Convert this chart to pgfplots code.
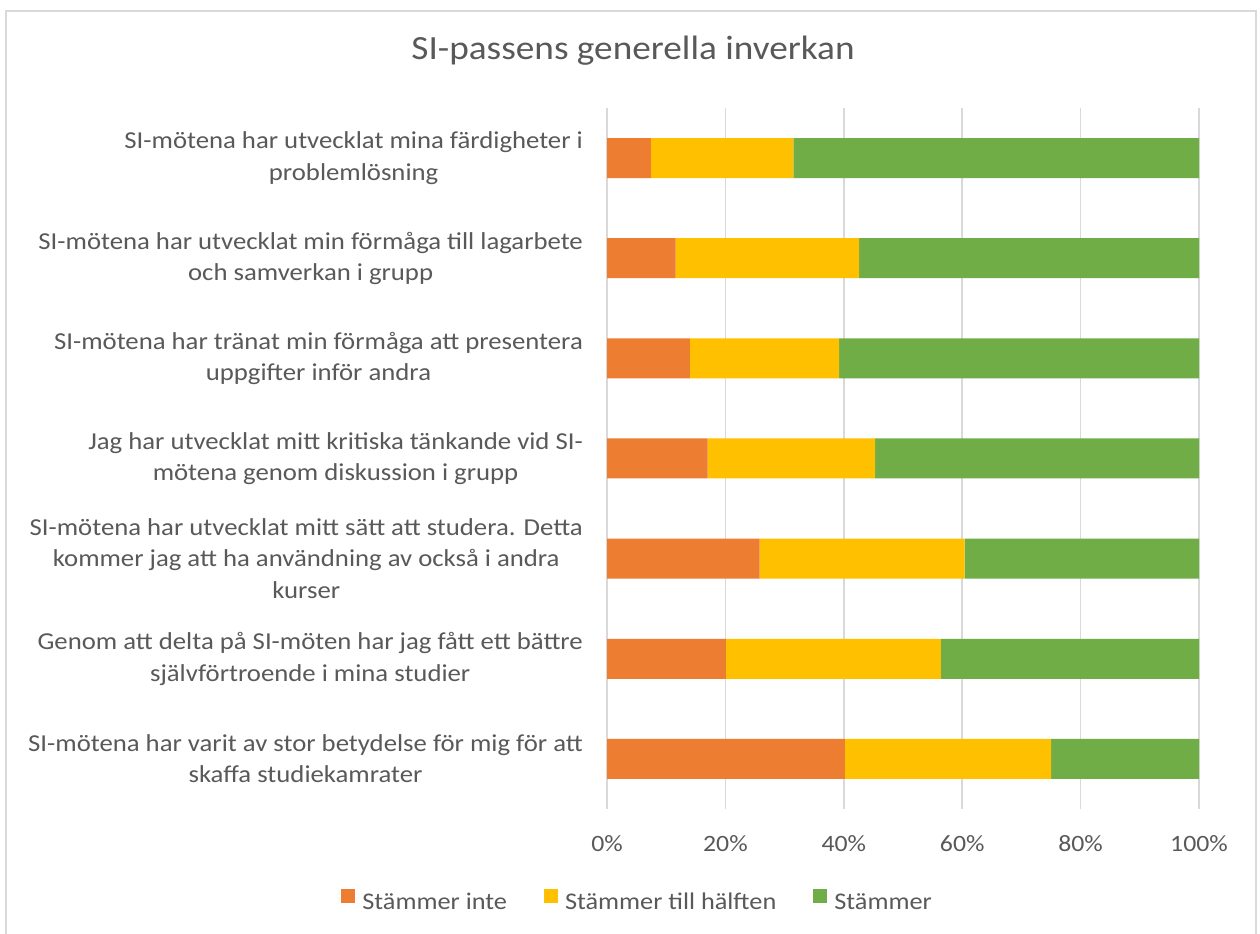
\documentclass[border=0pt]{standalone}
\usepackage{pgfplots}
\pgfplotsset{compat=1.18}
\usepackage{pgfplotstable}
\usepackage{fontspec}
\setmainfont{Carlito}
\newfontfamily\wide{Carlito}[FakeStretch=1.1]
\definecolor{txt}{HTML}{595959}
\definecolor{grd}{HTML}{D9D9D9}
\definecolor{c1}{HTML}{ED7D31}
\definecolor{c2}{HTML}{FFC000}
\definecolor{c3}{HTML}{70AD47}
\pgfplotstableread{
y a b c
0 40.2 34.8 25.0
1 20.1 36.3 43.6
2 25.8 34.6 39.6
3 17.0 28.3 54.7
4 14.0 25.2 60.8
5 11.6 31.0 57.4
6 7.4 24.1 68.5
}\data
\begin{document}
\begin{tikzpicture}[x=1bp,y=1bp]
\useasboundingbox (0,0) rectangle (1260,934);
\fill[white] (0,0) rectangle (1260,934);
\draw[grd, line width=1.5bp] (6,-10) rectangle (1256,923);
\node[txt, font=\wide\fontsize{34}{40}\selectfont, inner sep=0pt, anchor=base] at (633,874.7) {SI-passens generella inverkan};
\begin{axis}[at={(607bp,125bp)}, anchor=south west, scale only axis,
  width=592bp, height=701bp,
  xbar stacked, bar width=40bp,
  xmin=0, xmax=100, ymin=-0.5, ymax=6.5,
  axis line style={draw=none}, tick style={draw=none},
  xmajorgrids, grid style={grd, line width=1.5bp},
  xtick={0,20,40,60,80,100},
  xticklabels={0\%,20\%,40\%,60\%,80\%,100\%},
  xticklabel style={font=\wide\fontsize{23.5}{28}\selectfont, text=txt, inner sep=0pt, anchor=base, yshift=-42.7bp},
  ytick={0,1,2,3,4,5,6},
  yticklabels={
    {SI-mötena har varit av stor betydelse för mig för att\\skaffa studiekamrater},
    {Genom att delta på SI-möten har jag fått ett bättre\\självförtroende i mina studier},
    {SI-mötena har utvecklat mitt sätt att studera. Detta\\kommer jag att ha användning av också i andra\\kurser},
    {Jag har utvecklat mitt kritiska tänkande vid SI-\\mötena genom diskussion i grupp},
    {SI-mötena har tränat min förmåga att presentera\\uppgifter inför andra},
    {SI-mötena har utvecklat min förmåga till lagarbete\\och samverkan i grupp},
    {SI-mötena har utvecklat mina färdigheter i\\problemlösning}},
  yticklabel style={font=\wide\fontsize{24.4}{31.5}\selectfont, text=txt, align=center, inner sep=0pt, anchor=east, xshift=-24bp},
  legend style={at={(0.05,-0.13)}, anchor=center, draw=none, fill=none,
    legend columns=3, font=\wide\fontsize{24}{28}\selectfont, text=txt,
    nodes={inner sep=0pt},
    /tikz/every odd column/.append style={column sep=7bp},
    /tikz/every even column/.append style={column sep=37bp}},
  legend image code/.code={\fill[#1] (0bp,-0.5bp) rectangle (14bp,13.5bp);},
]
\addplot[fill=c1, draw=none] table[x=a, y=y]{\data};
\addplot[fill=c2, draw=none] table[x=b, y=y]{\data};
\addplot[fill=c3, draw=none] table[x=c, y=y]{\data};
\legend{Stämmer inte, Stämmer till hälften, Stämmer}
\end{axis}
\end{tikzpicture}
\end{document}
